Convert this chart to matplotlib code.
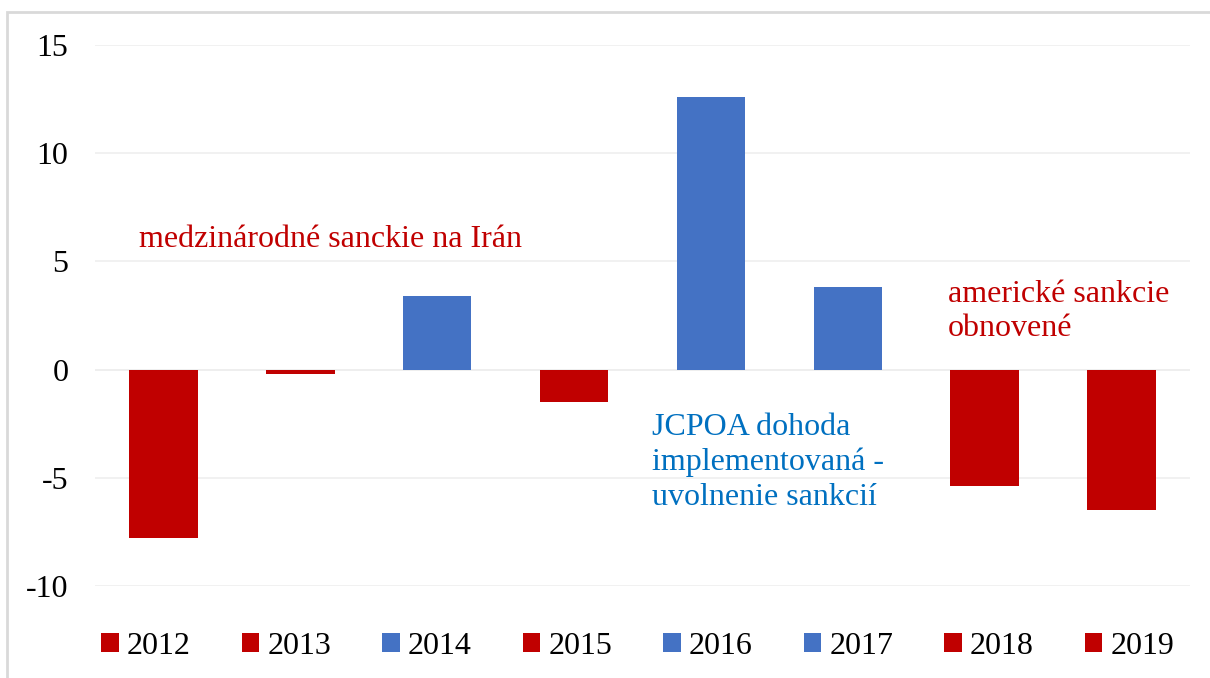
import matplotlib.pyplot as plt
from matplotlib.patches import Patch, Rectangle

# Data
years = ['2012', '2013', '2014', '2015', '2016', '2017', '2018', '2019']
values = [-7.8, -0.2, 3.4, -1.5, 12.6, 3.8, -5.4, -6.5]

RED = '#C00000'
BLUE = '#4472C4'
colors = [RED if v < 0 else BLUE for v in values]

plt.rcParams['font.family'] = ['Liberation Serif', 'DejaVu Serif']
plt.rcParams['axes.unicode_minus'] = False

fig = plt.figure(figsize=(12.1, 6.78), dpi=100)
ax = fig.add_axes([0.0785, 0.1357, 0.905, 0.7979])

x = range(len(years))
ax.bar(x, values, width=0.5, color=colors, zorder=3)

ax.set_xlim(-0.5, len(years) - 0.5)
ax.set_ylim(-10, 15)
ax.set_yticks([-10, -5, 0, 5, 10, 15])
ax.set_xticks([])
ax.tick_params(axis='y', length=0, pad=19, labelsize=23)
ax.grid(axis='y', color='#efefef', linewidth=1.2, zorder=0)
for s in ax.spines.values():
    s.set_visible(False)
ax.axhline(0, color='#ebebeb', linewidth=1.2, zorder=1)

# anotácie
ax.text(-0.18, 6.0, 'medzinárodné sanckie na Irán', color=RED, fontsize=23,
        va='center', ha='left')
ax.text(3.57, -4.29, 'JCPOA dohoda\nimplementovaná -\nuvolnenie sankcií',
        color='#0070C0', fontsize=23, va='center', ha='left', linespacing=1.25)
ax.text(5.73, 2.68, 'americké sankcie\nobnovené', color=RED, fontsize=23,
        va='center', ha='left', linespacing=1.25)

# legenda
handles = [Patch(facecolor=c) for c in colors]
fig.legend(handles, years, loc='center', bbox_to_anchor=(0.527, 0.047),
           ncol=8, frameon=False, fontsize=23, handlelength=0.55,
           handleheight=0.55, handletextpad=0.25, columnspacing=1.6)

# rámik grafu
fig.patches.append(Rectangle((7 / 1210, -0.1), 1.2, 1.1 - 12 / 678,
                             transform=fig.transFigure, fill=False,
                             edgecolor='#d9d9d9', linewidth=2))

plt.savefig('out.png', dpi=100)
